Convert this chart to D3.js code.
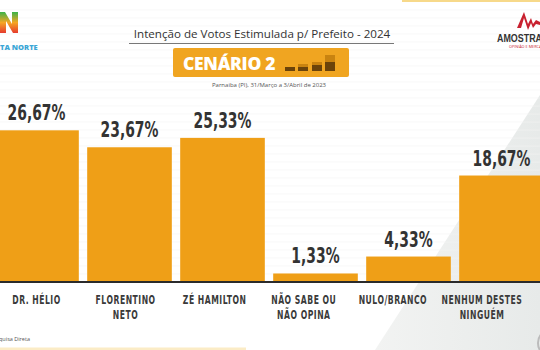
<!DOCTYPE html>
<html><head><meta charset="utf-8">
<script src="https://cdn.jsdelivr.net/npm/d3@7/dist/d3.min.js"></script>
<style>html,body{margin:0;padding:0;background:#fff;overflow:hidden}</style>
</head><body>
<svg id="c" width="540" height="350"></svg>
<script>
const categories = [["DR. HÉLIO"],["FLORENTINO","NETO"],["ZÉ HAMILTON"],["NÃO SABE OU","NÃO OPINA"],["NULO/BRANCO"],["NENHUM DESTES","NINGUÉM"]];
const values = [26.67, 23.67, 25.33, 1.33, 4.33, 18.67];
const valueLabels = ["26,67%","23,67%","25,33%","1,33%","4,33%","18,67%"];
const title = "Intenção de Votos Estimulada p/ Prefeito - 2024";
const subtitle = "Parnaiba (PI), 31/Março a 3/Abril de 2023";
const scenario = "CENÁRIO 2";

const W = 540, H = 350, base = 281;
const svg = d3.select("#c");
const boldFont = "'DejaVu Sans',sans-serif";

function natWidth(str, size) {
  const t = svg.append("text").attr("font-family",boldFont).attr("font-weight","bold").attr("font-size",size).text(str);
  const w = t.node().getComputedTextLength(); t.remove(); return w;
}

// background
const defs = svg.append("defs");
const g1 = defs.append("linearGradient").attr("id","bgGrad").attr("x1","0").attr("y1","0").attr("x2","1").attr("y2","0");
g1.append("stop").attr("offset","0").attr("stop-color","#f2f3f2");
g1.append("stop").attr("offset","1").attr("stop-color","#e7eae9");
svg.append("rect").attr("width",W).attr("height",H).attr("fill","#fff");
svg.append("path").attr("d","M540,95 L375,350 L540,350 Z").attr("fill","url(#bgGrad)");
for (let yy = 10; yy < 280; yy += 8) {
  svg.append("line").attr("x1",0).attr("x2",W).attr("y1",yy).attr("y2",yy).attr("stroke","#f3f3f3").attr("stroke-width",0.6);
}
svg.append("rect").attr("x",402).attr("y",0).attr("width",138).attr("height",2).attr("fill","#f7d98a");
svg.append("rect").attr("x",0).attr("y",347.5).attr("width",246).attr("height",2.5).attr("fill","#fbecc6");

// scales
const x = d3.scaleBand().domain(d3.range(values.length)).range([-10, 548]).paddingInner(0.09).paddingOuter(0.045);
const y = d3.scaleLinear().domain([0, 27]).range([base, base - 27*5.65]);
const xl = d3.scalePoint().domain(d3.range(categories.length)).range([36.5, 482]);

// bars
svg.append("g").selectAll("rect").data(values).join("rect")
  .attr("x",(d,i)=>x(i)).attr("width",x.bandwidth())
  .attr("y",d=>y(d)).attr("height",d=>y(0)-y(d))
  .attr("fill","#ef9f17");

// value labels (condensed)
const vSize = 22;
const vSx = 58 / natWidth("26,67%", vSize);
svg.append("g").selectAll("text").data(values).join("text")
  .attr("transform",(d,i)=>`translate(${x(i)+x.bandwidth()/2},${y(d)-10}) scale(${vSx},1)`)
  .attr("text-anchor","middle")
  .attr("font-family",boldFont).attr("font-weight","bold").attr("font-size",vSize)
  .attr("fill","#333")
  .text((d,i)=>valueLabels[i]);

// baseline
svg.append("line").attr("x1",0).attr("x2",W).attr("y1",base+1).attr("y2",base+1).attr("stroke","#2b2b2b").attr("stroke-width",2.2);

// category labels (condensed)
const cSize = 12.2;
const cSx = 55 / natWidth("FLORENTINO", cSize);
const cg = svg.append("g");
categories.forEach((lines,i)=>{
  lines.forEach((l,j)=>{
    cg.append("text")
      .attr("transform",`translate(${xl(i)},${304+j*14.5}) scale(${cSx},1)`)
      .attr("text-anchor","middle")
      .attr("font-family",boldFont).attr("font-weight","bold").attr("font-size",cSize)
      .attr("letter-spacing",0.8).attr("fill","#3a3a3a").text(l);
  });
});

// title
svg.append("text").attr("x",262).attr("y",38).attr("text-anchor","middle")
  .attr("font-family","'Open Sans',sans-serif").attr("font-size",11.6).attr("fill","#333").text(title);
svg.append("line").attr("x1",129).attr("x2",394).attr("y1",43.5).attr("y2",43.5).attr("stroke","#555").attr("stroke-width",0.8);

// scenario box
svg.append("rect").attr("x",173).attr("y",48).attr("width",176).attr("height",29).attr("rx",2).attr("fill","#f0a521");
svg.append("text").attr("x",183).attr("y",70).attr("font-family","'Open Sans',sans-serif").attr("font-weight",800)
  .attr("font-size",17.5).attr("fill","#fff").attr("letter-spacing",-0.3).text(scenario);
const icons = [[285,4,0],[298,4,3],[312,6,3],[325,9,7]];
icons.forEach(([ix,h1,h2])=>{
  if (h2) svg.append("rect").attr("x",ix).attr("y",71-h1-h2).attr("width",10).attr("height",h2).attr("fill","#c98310");
  svg.append("rect").attr("x",ix).attr("y",71-h1).attr("width",10).attr("height",h1).attr("fill","#6b430a");
});
svg.append("text").attr("x",269).attr("y",87).attr("text-anchor","middle")
  .attr("font-family","'Open Sans',sans-serif").attr("font-size",6).attr("fill","#555").text(subtitle);

// left logo
const lg = defs.append("linearGradient").attr("id","logoGrad").attr("x1","0").attr("y1","0").attr("x2","0").attr("y2","1");
lg.append("stop").attr("offset","0").attr("stop-color","#3bb34a");
lg.append("stop").attr("offset","0.5").attr("stop-color","#f5a623");
lg.append("stop").attr("offset","1").attr("stop-color","#e63b2e");
svg.append("path").attr("d","M0,12 L5,12 L12,24 L12,12 L18,12 L18,33 L13,33 L6,21 L6,33 L0,33 Z").attr("fill","url(#logoGrad)");
svg.append("text").attr("x",0).attr("y",50).attr("font-family","'Open Sans',sans-serif").attr("font-weight",800)
  .attr("font-size",7.5).attr("fill","#3ba6d6").text("TA NORTE");

// right logo
svg.append("path").attr("d","M517,28 L524,12 L528,24 L531,18 L533,24 L536,20 L540,22 L540,25 L536,24 L533,28 L531,23 L528,30 L524,18 L521,28 Z").attr("fill","#c8202f");
svg.append("text").attr("x",497).attr("y",42).attr("font-family","'Liberation Sans',sans-serif").attr("font-weight","bold")
  .attr("font-size",10.5).attr("fill","#333").attr("transform","translate(497,0) scale(0.85,1) translate(-497,0)").text("AMOSTRA");
svg.append("text").attr("x",509).attr("y",48).attr("font-family","'Open Sans',sans-serif")
  .attr("font-size",3.8).attr("fill","#c8202f").text("OPINIÃO E MERCADO");

// footer
svg.append("text").attr("x",-1).attr("y",341).attr("font-family","'Open Sans',sans-serif")
  .attr("font-size",5.5).attr("fill","#555").text("quisa Direta");
svg.append("circle").attr("cx",552).attr("cy",343).attr("r",14).attr("fill","none").attr("stroke","#bbb").attr("stroke-width",2);
</script>
</body></html>
